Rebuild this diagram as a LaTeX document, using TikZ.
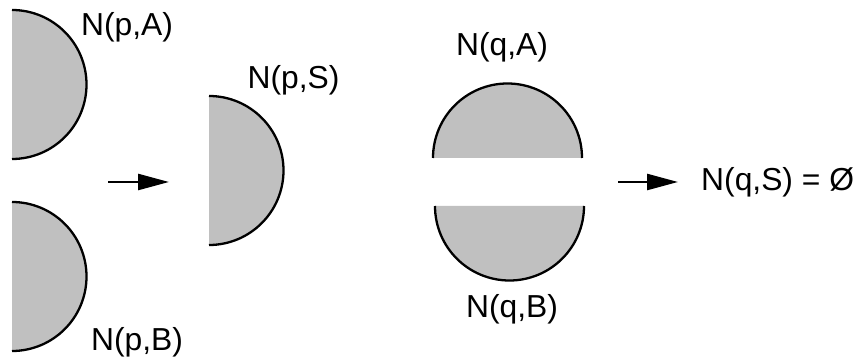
\documentclass[tikz,border=0pt]{standalone}
\usepackage{fontspec}
\setmainfont{Liberation Sans}
\usetikzlibrary{arrows.meta}

\definecolor{diskgray}{RGB}{192,192,192}
\newcommand*{\diskr}{74.5}

\begin{document}
\begin{tikzpicture}
[
	x=1pt,y=1pt,
	half/.style={fill=diskgray},
	rim/.style={line width=2.3pt},
	lbl/.style={inner sep=0pt,font=\fontsize{31.8}{36}\selectfont},
	push/.style={line width=2.5pt,-{Triangle[length=31pt,width=16pt]}}
]
	\useasboundingbox (0,0) rectangle (859,358);

	% left pair
	\fill[half] (12,348) arc (90:-90:\diskr) -- cycle;
	\draw[rim] (12,348) arc (90:-90:\diskr);
	\fill[half] (12,156) arc (90:-90:\diskr) -- cycle;
	\draw[rim] (12,156) arc (90:-90:\diskr);
	\node[lbl] (pA) at (127,330.5) {N(p,A)};
	\node[lbl] (pB) at (137,15.5) {N(p,B)};

	% merged p
	\fill[half] (209,262) arc (90:-90:\diskr) -- cycle;
	\draw[rim] (209,262) arc (90:-90:\diskr);
	\node[lbl] (pS) at (293.5,278) {N(p,S)};

	% q pair
	\fill[half] (433,200) arc (180:0:\diskr) -- cycle;
	\draw[rim] (433,200) arc (180:0:\diskr);
	\fill[half] (435,152) arc (180:360:\diskr) -- cycle;
	\draw[rim] (435,152) arc (180:360:\diskr);
	\node[lbl] (qA) at (502,310.5) {N(q,A)};
	\node[lbl] (qB) at (512,49) {N(q,B)};
	\node[lbl,anchor=west] (qS) at (701,176) {N(q,S) = Ø};

	% arrows
	\coordinate (pfrom) at (108,176);
	\coordinate (pto) at (169,176);
	\draw[push] (pfrom) -- (pto);
	\coordinate (qfrom) at (618,176);
	\coordinate (qto) at (678,176);
	\draw[push] (qfrom) -- (qto);

\end{tikzpicture}
\end{document}
